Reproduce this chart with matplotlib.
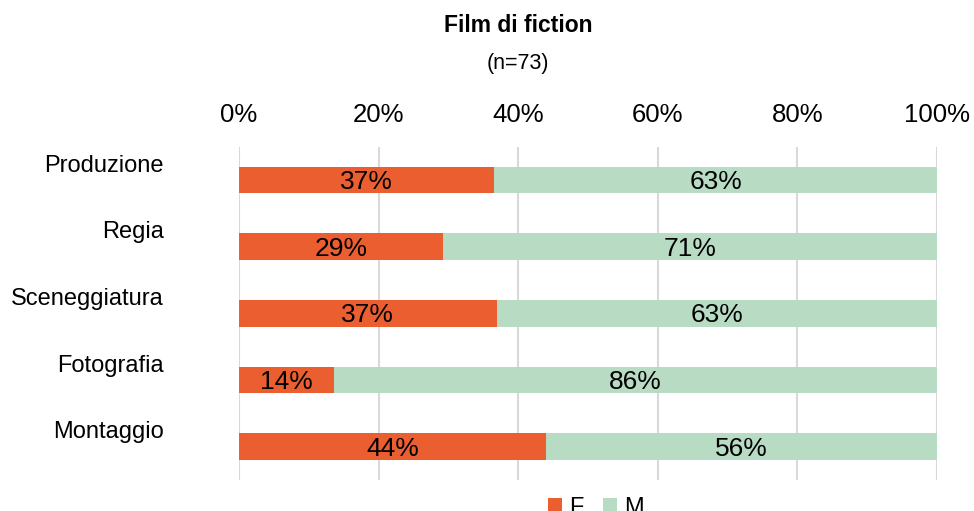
import matplotlib
matplotlib.use("Agg")
import matplotlib.pyplot as plt
import matplotlib.transforms as mtransforms
from matplotlib.patches import Patch
import numpy as np

plt.rcParams['font.family'] = ['Liberation Sans', 'DejaVu Sans']

categories = ["Produzione", "Regia", "Sceneggiatura", "Fotografia", "Montaggio"]
f_values = [36.6, 29.2, 36.9, 13.6, 44.0]
m_values = [100 - v for v in f_values]
series_names = ["F", "M"]
colors = ["#EB5E30", "#B8DBC4"]
title = "Film di fiction"
subtitle = "(n=73)"
xticks = [0, 20, 40, 60, 80, 100]
xtick_labels = ["0%", "20%", "40%", "60%", "80%", "100%"]

fig = plt.figure(figsize=(9.74, 5.11), dpi=100)
ax = fig.add_axes([239/974, 1 - 480/511, (937-239)/974, (480-146.7)/511])

y = np.arange(len(categories))
h = 0.4
ax.barh(y, f_values, height=h, color=colors[0], zorder=3)
ax.barh(y, m_values, left=f_values, height=h, color=colors[1], zorder=3)

down = mtransforms.ScaledTranslation(0, -2/100, fig.dpi_scale_trans)
for i in range(len(categories)):
    t1 = ax.text(f_values[i] / 2, y[i], f"{f_values[i]:.0f}%", ha='center', va='center',
                 fontsize=19, color='black', zorder=4)
    t2 = ax.text(f_values[i] + m_values[i] / 2, y[i], f"{m_values[i]:.0f}%", ha='center', va='center',
                 fontsize=19, color='black', zorder=4)
    t1.set_transform(t1.get_transform() + down)
    t2.set_transform(t2.get_transform() + down)

ax.set_xlim(0, 100)
ax.set_ylim(len(categories) - 0.5, -0.5)
ax.set_xticks(xticks)
ax.set_xticklabels(xtick_labels, fontsize=18.5)
ax.xaxis.tick_top()
ax.tick_params(axis='x', length=0, pad=14)
ax.set_yticks(y)
ax.set_yticklabels(categories, fontsize=17)
ax.tick_params(axis='y', length=0, pad=54)
offset = mtransforms.ScaledTranslation(0, 17/100, fig.dpi_scale_trans)
for lab in ax.get_yticklabels():
    lab.set_transform(lab.get_transform() + offset)

ax.grid(axis='x', color='#D9D9D9', linewidth=1.5, zorder=0)
for s in ax.spines.values():
    s.set_visible(False)

fig.text(518/974, 1 - 25/511, title, ha='center', va='center', fontsize=16.5, fontweight='bold')
fig.text(518/974, 1 - 63/511, subtitle, ha='center', va='center', fontsize=15.5)

handles = [Patch(facecolor=colors[0]), Patch(facecolor=colors[1])]
fig.legend(handles, series_names, loc='upper center', bbox_to_anchor=(596/974, 1 - 485/511),
           ncol=2, frameon=False, fontsize=17, handlelength=0.6, handleheight=0.6,
           handletextpad=0.3, columnspacing=0.8, borderpad=0)

fig.savefig("out.png", dpi=100)
